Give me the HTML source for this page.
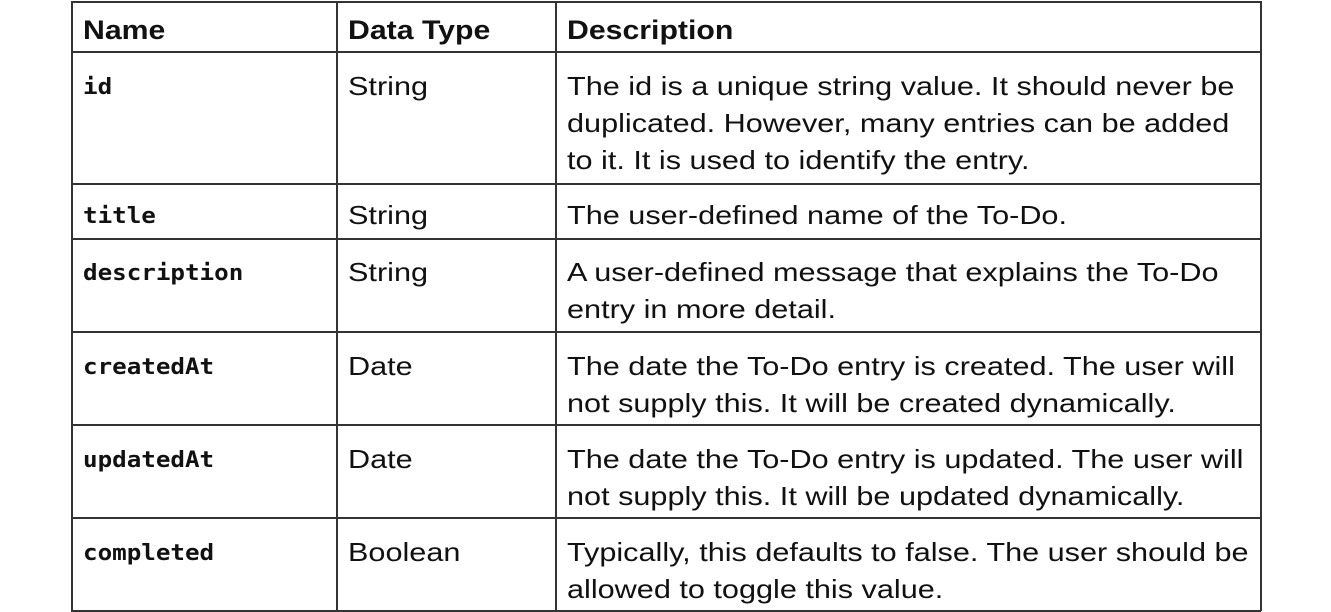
<!DOCTYPE html>
<html><head><style>
body{margin:0;width:1331px;height:612px;background:#fff;position:relative;overflow:hidden;font-family:"Liberation Sans","DejaVu Sans",sans-serif;color:#111}
.h{position:absolute;background:#333;height:1.5px;left:71px;width:1190px}
.v{position:absolute;background:#333;width:1.5px;top:1px;height:610px}
.t{position:absolute;font-size:26px;line-height:37px;white-space:nowrap;transform-origin:0 0;transform:scaleX(1.178)}
.b{font-weight:bold;font-size:27px;transform:scaleX(1.12)}
.m{font-family:"DejaVu Sans Mono","Liberation Mono",monospace;font-weight:bold;font-size:22px;transform:scaleX(1.10)}
</style></head><body>
<div class="h" style="top:1px"></div>
<div class="h" style="top:51px"></div>
<div class="h" style="top:183px"></div>
<div class="h" style="top:238px"></div>
<div class="h" style="top:331px"></div>
<div class="h" style="top:424px"></div>
<div class="h" style="top:517px"></div>
<div class="h" style="top:610px"></div>
<div class="v" style="left:71px"></div>
<div class="v" style="left:336px"></div>
<div class="v" style="left:555px"></div>
<div class="v" style="left:1260px"></div>

<div class="t b" style="left:83px;top:12px">Name</div>
<div class="t b" style="left:348px;top:12px">Data Type</div>
<div class="t b" style="left:567px;top:12px">Description</div>

<div class="t m" style="left:83px;top:69px">id</div>
<div class="t" style="left:348px;top:68px">String</div>
<div class="t" style="left:567px;top:68px">The id is a unique string value. It should never be<br>duplicated. However, many entries can be added<br>to it. It is used to identify the entry.</div>

<div class="t m" style="left:83px;top:198px">title</div>
<div class="t" style="left:348px;top:197px">String</div>
<div class="t" style="left:567px;top:197px">The user-defined name of the To-Do.</div>

<div class="t m" style="left:83px;top:255px">description</div>
<div class="t" style="left:348px;top:254px">String</div>
<div class="t" style="left:567px;top:254px">A user-defined message that explains the To-Do<br>entry in more detail.</div>

<div class="t m" style="left:83px;top:349px">createdAt</div>
<div class="t" style="left:348px;top:348px">Date</div>
<div class="t" style="left:567px;top:348px">The date the To-Do entry is created. The user will<br>not supply this. It will be created dynamically.</div>

<div class="t m" style="left:83px;top:442px">updatedAt</div>
<div class="t" style="left:348px;top:441px">Date</div>
<div class="t" style="left:567px;top:441px">The date the To-Do entry is updated. The user will<br>not supply this. It will be updated dynamically.</div>

<div class="t m" style="left:83px;top:535px">completed</div>
<div class="t" style="left:348px;top:534px">Boolean</div>
<div class="t" style="left:567px;top:534px">Typically, this defaults to false. The user should be<br>allowed to toggle this value.</div>
</body></html>
